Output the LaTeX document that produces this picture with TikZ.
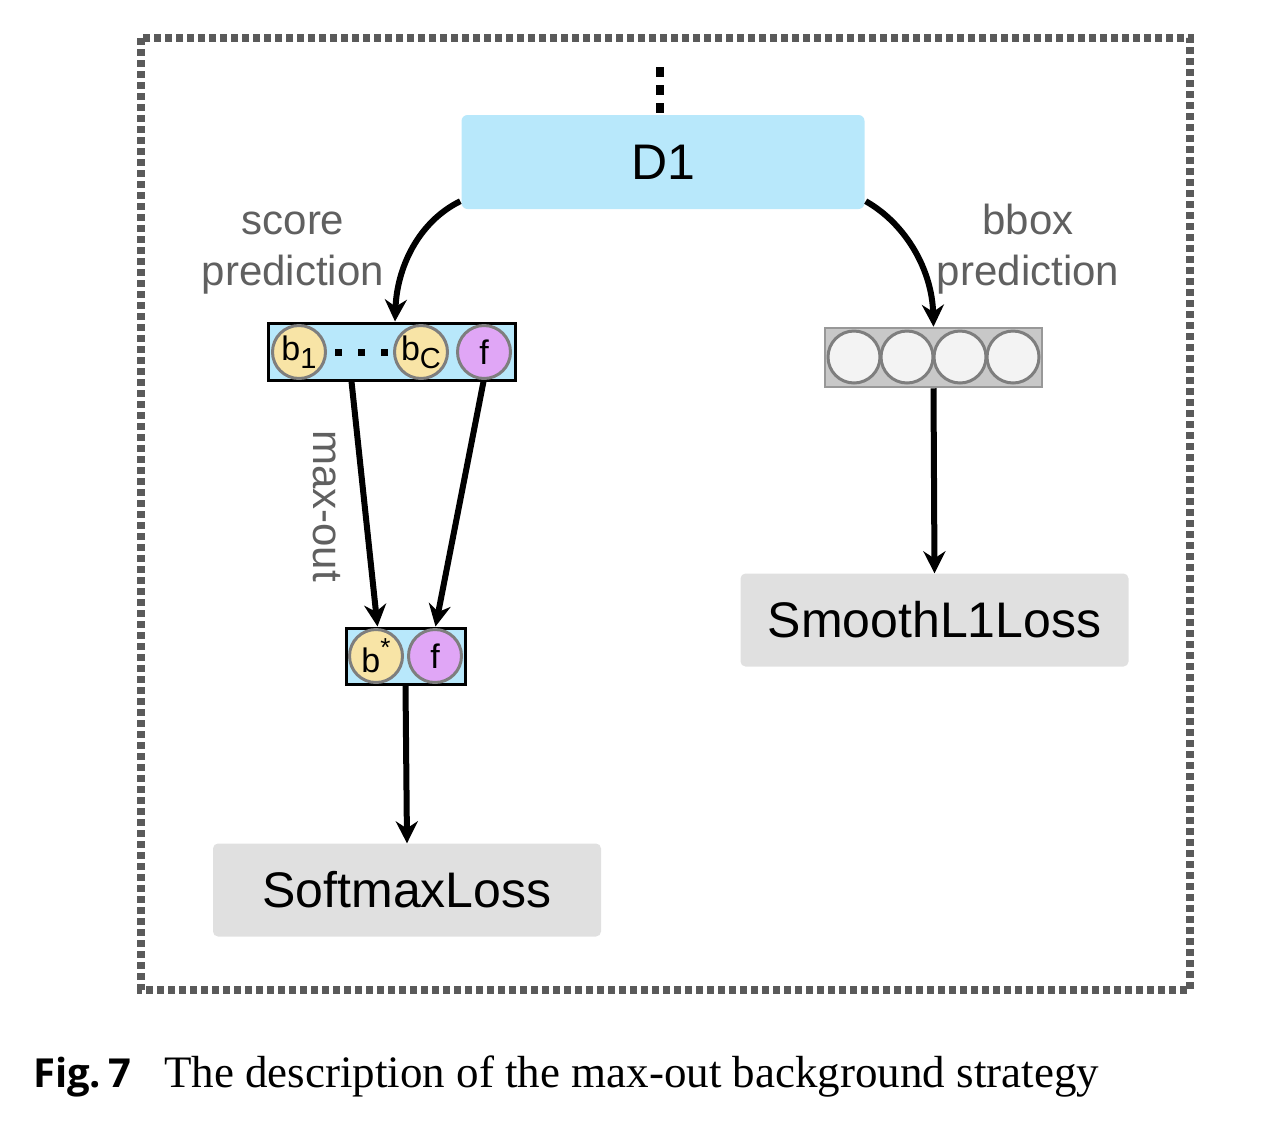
\documentclass[tikz,border=0pt]{standalone}
\usepackage{fontspec}
\setmainfont{Liberation Sans}
\newfontfamily\capserif{Liberation Serif}
\newfontfamily\capsans{Open Sans}
\usetikzlibrary{arrows.meta}
\definecolor{boxblue}{HTML}{B8E8FB}
\definecolor{lossgray}{HTML}{E0E0E0}
\definecolor{labelgray}{HTML}{606060}
\definecolor{framegray}{HTML}{5A5A5A}
\definecolor{byellow}{HTML}{F8E4A6}
\definecolor{fpurple}{HTML}{E0A6F6}
\definecolor{cgray}{HTML}{C8C8C8}
\definecolor{cwhite}{HTML}{F3F3F3}
\definecolor{ringgray}{HTML}{7E7E7E}
\tikzset{
  conn/.style={line width=6pt,-{Stealth[length=22pt,width=22pt]}},
  ball/.style={circle,draw=ringgray,line width=3pt,minimum size=53pt,inner sep=0pt,font=\fontsize{34}{40}\selectfont},
  lossbox/.style={rectangle,rounded corners=5pt,fill=lossgray,minimum width=388pt,minimum height=93pt,font=\fontsize{50}{60}\selectfont},
  lbl/.style={text=labelgray,font=\fontsize{42}{50}\selectfont,align=center},
  strip/.style={rectangle,draw=black,line width=3pt,fill=boxblue,inner sep=0pt}
}
\begin{document}
\begin{tikzpicture}[x=1pt,y=-1pt]
\useasboundingbox (0,0) rectangle (1284,1128);
% frame
\draw[framegray,line width=8pt,dash pattern=on 7pt off 4pt] (141,38) rectangle (1190,990);
% D1
\node[rectangle,rounded corners=6pt,fill=boxblue,minimum width=403pt,minimum height=94pt,font=\fontsize{50}{60}\selectfont] (D1) at (663,162) {D1};
\coordinate (top) at (660,67);
\draw[line width=8pt,dash pattern=on 10pt off 8pt] (top) -- (D1.north -| top);
% score strip
\node[strip,minimum width=247pt,minimum height=57pt] (sbox) at (391.5,351.5) {};
\node[ball,fill=byellow] (b1) at (299,352) {b\raisebox{-8pt}{\fontsize{29}{34}\selectfont 1}};
\node[ball,fill=byellow] (bc) at (421,352) {b\raisebox{-8pt}{\fontsize{29}{34}\selectfont C}};
\node[ball,fill=fpurple] (f1) at (484,352) {f};
\foreach \x in {338,361,384} \fill (\x-3.5,348.5) rectangle ++(7,7);
% bbox strip
\node[rectangle,draw=ringgray!80,line width=2.5pt,fill=cgray,minimum width=217pt,minimum height=59pt,inner sep=0pt] (bb) at (933.5,357.5) {};
\foreach \x [count=\i] in {854,907,960,1013} \node[ball,fill=cwhite,minimum size=52pt] (c\i) at (\x,357) {};
% b* strip
\node[strip,minimum width=119pt,minimum height=56pt] (mbox) at (405.5,656) {};
\node[ball,fill=byellow] (bs) at (376,656) {b\raisebox{16pt}{\fontsize{26}{30}\selectfont *}};
\node[ball,fill=fpurple] (f2) at (435,656) {f};
% losses
\node[lossbox] (soft) at (407,890) {SoftmaxLoss};
\node[lossbox] (smooth) at (934.5,620) {SmoothL1Loss};
% labels
\node[lbl] at (293,249) {\vphantom{b}score\\[1pt]prediction};
\node[lbl] at (1028,249) {bbox\\[1pt]prediction};
\node[lbl,rotate=-90] at (327,506) {max-out};
% connectors
\draw[conn] ([xshift=-1pt,yshift=8pt]D1.south west) .. controls (418,222) and (397,268) .. ([xshift=3.5pt]sbox.north);
\draw[conn] ([xshift=1pt,yshift=8pt]D1.south east) .. controls (906,224) and (932,270) .. (bb.north);
\draw[conn] ([xshift=-40pt]sbox.south) -- ([xshift=-28pt]mbox.north);
\draw[conn] ([xshift=92pt]sbox.south) -- ([xshift=30pt]mbox.north);
\draw[conn] (mbox.south) -- (soft.north);
\draw[conn] (bb.south) -- (smooth.north);
% caption
\node[anchor=base west,inner sep=0pt,font=\capsans\bfseries\fontsize{40}{48}\selectfont] (figlbl) at (33,1087) {Fig.\,7};
\node[anchor=base west,inner sep=0pt,font=\capserif\fontsize{45}{54}\selectfont] (captxt) at (164,1087) {The description of the max-out background strategy};
\end{tikzpicture}
\end{document}
